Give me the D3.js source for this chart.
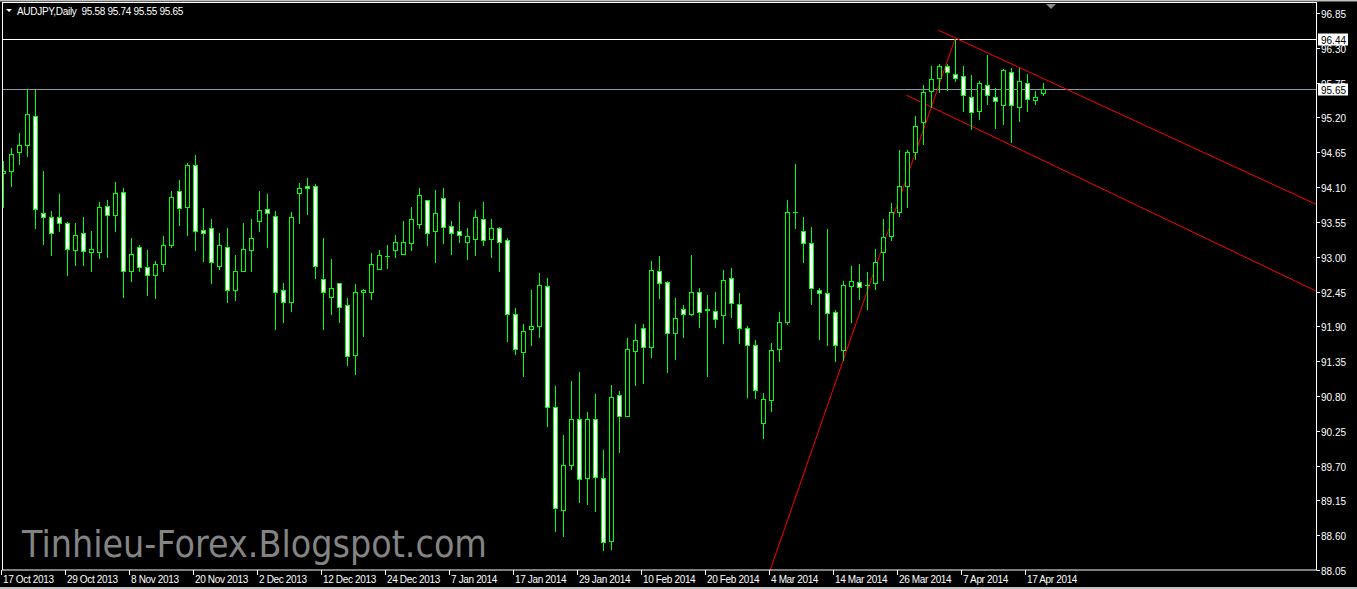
<!DOCTYPE html>
<html><head><meta charset="utf-8">
<script src="https://cdn.jsdelivr.net/npm/d3@7"></script>
<style>
html,body{margin:0;padding:0;background:#000;overflow:hidden}
svg{display:block}
</style></head><body>
<script>
// ---- data ----
const opens  = [94.33,94.35,94.65,94.76,95.23,93.69,93.63,93.63,93.53,93.11,93.37,93.08,93.08,93.80,93.66,94.02,92.77,93.15,92.84,92.71,92.89,93.19,94.04,93.78,94.45,93.42,93.45,92.85,93.15,92.47,92.78,93.11,93.57,93.76,93.65,92.47,92.28,94.00,94.11,94.12,92.65,92.36,92.58,92.24,91.44,92.44,92.45,92.81,93.01,93.11,93.05,93.22,93.52,93.89,93.40,93.92,93.49,93.40,93.24,93.28,93.60,93.28,93.46,93.26,92.09,91.49,91.85,91.90,92.54,90.63,89.00,89.71,90.43,89.50,90.43,89.51,88.51,90.81,90.48,91.51,91.87,91.58,92.77,92.60,91.79,92.17,92.09,92.44,92.17,92.14,92.08,92.66,92.25,91.87,91.61,90.37,90.74,91.54,91.97,93.70,93.41,93.21,92.47,92.43,92.13,91.52,92.54,92.60,92.55,92.58,93.08,93.33,93.70,94.12,94.66,95.13,95.62,95.82,96.02,95.89,95.85,95.53,95.30,95.72,95.53,95.40,95.92,95.37,95.75,95.47,95.58];
const highs  = [94.51,94.71,94.96,95.65,95.63,94.36,93.72,93.99,93.55,93.54,93.63,93.40,93.86,93.89,94.18,94.09,93.29,93.18,93.11,92.93,93.33,94.04,94.21,94.48,94.61,93.77,93.59,93.37,93.46,93.03,93.54,93.60,94.04,93.99,93.72,92.59,93.71,94.17,94.24,94.15,93.30,92.97,92.59,92.35,92.57,92.49,93.06,93.10,93.18,93.34,93.57,93.79,94.08,93.90,94.05,94.08,93.57,93.86,93.46,93.74,93.86,93.59,93.47,93.29,92.19,91.93,92.47,92.75,92.66,90.95,90.18,91.04,91.18,90.55,90.83,89.94,90.98,90.88,91.71,91.93,91.93,92.93,93.01,92.62,92.35,92.23,93.03,92.51,92.39,92.44,92.79,92.82,92.43,91.90,91.68,90.85,91.64,92.13,93.90,94.47,93.63,93.47,92.50,93.44,92.16,92.61,92.85,92.88,92.76,93.12,93.59,93.85,94.69,94.69,95.22,95.72,96.02,96.05,96.05,96.44,96.02,95.87,95.77,96.19,95.66,95.97,95.98,95.98,95.89,95.62,95.74];
const lows   = [93.79,94.12,94.46,94.59,93.45,93.20,93.03,93.41,92.71,92.87,92.87,92.77,92.98,93.00,93.40,92.37,92.61,92.77,92.40,92.35,92.78,93.15,93.50,93.34,93.11,92.93,92.58,92.80,92.28,92.32,92.77,92.78,93.40,93.15,91.85,91.97,92.14,93.53,93.68,92.67,91.85,92.10,91.97,91.29,91.14,91.75,92.33,92.80,92.82,92.99,93.05,93.11,93.45,93.19,92.92,93.22,93.04,93.24,92.97,93.03,93.19,93.00,92.77,91.67,91.47,91.12,91.60,91.73,90.32,88.67,88.59,89.65,89.13,89.09,88.98,88.37,88.38,89.91,90.48,90.98,91.00,91.41,92.35,91.18,91.39,91.73,92.08,91.89,91.12,91.89,91.63,92.05,91.64,90.79,90.76,90.14,90.57,91.35,91.93,93.46,92.92,92.25,91.70,91.60,91.35,91.37,91.97,92.33,92.17,92.49,92.63,93.26,93.65,93.79,94.55,94.78,95.37,95.60,95.63,95.77,95.30,95.02,95.18,95.41,95.04,95.10,94.82,95.15,95.30,95.41,95.55];
const closes = [94.36,94.62,94.77,95.25,93.75,93.63,93.38,93.53,93.12,93.35,93.09,93.12,93.78,93.66,94.00,92.77,93.05,92.83,92.71,92.89,93.19,93.94,93.77,94.45,93.40,93.38,92.91,93.18,92.47,92.78,93.12,93.30,93.74,93.69,92.45,92.28,93.63,94.09,94.08,92.85,92.45,92.50,92.20,91.43,92.44,92.47,92.89,93.03,93.01,93.23,93.23,93.60,93.97,93.38,93.69,93.47,93.38,93.35,93.32,93.63,93.27,93.46,93.24,92.10,91.54,91.82,91.90,92.55,90.62,89.03,89.71,90.43,89.48,90.43,89.52,88.50,90.79,90.48,91.54,91.69,91.58,92.79,92.59,91.79,92.03,92.10,92.44,92.13,92.16,92.02,92.63,92.27,91.87,91.61,90.89,90.75,91.53,91.97,93.70,93.71,93.21,92.51,92.43,92.11,91.60,92.55,92.62,92.52,92.56,92.92,93.31,93.70,94.12,94.65,95.07,95.60,95.81,96.02,95.92,95.83,95.55,95.29,95.75,95.55,95.46,95.95,95.39,95.77,95.49,95.53,95.65];

const dateLabels = ["17 Oct 2013","29 Oct 2013","8 Nov 2013","20 Nov 2013","2 Dec 2013","12 Dec 2013","24 Dec 2013","7 Jan 2014","17 Jan 2014","29 Jan 2014","10 Feb 2014","20 Feb 2014","4 Mar 2014","14 Mar 2014","26 Mar 2014","7 Apr 2014","17 Apr 2014"];
const dateLabelBars = [0,8,16,24,32,40,48,56,64,72,80,88,96,104,112,120,128];
const priceTicks = [96.85,96.30,95.75,95.20,94.65,94.10,93.55,93.00,92.45,91.90,91.35,90.80,90.25,89.70,89.15,88.60,88.05];
const hLineLevel = 96.44;
const bidLevel = 95.65;
const headerText = "AUDJPY,Daily  95.58 95.74 95.55 95.65";
const watermark = "Tinhieu-Forex.Blogspot.com";
// trend objects: [bar, price] end points
const trendLine    = [[95.9, 88.05],[119, 96.44]];
const channelUpper = [[116.9, 96.58],[164.1, 93.83]];
const channelLower = [[112.9, 95.555],[164.1, 92.46]];

// ---- layout ----
const W = 1357, H = 589;
const plot = {left: 2, top: 3, right: 1316, bottom: 570};

const svg = d3.select("body").append("svg").attr("width", W).attr("height", H);
svg.append("rect").attr("width", W).attr("height", H).attr("fill", "#000");

const x = d3.scaleLinear().domain([0, 1]).range([3, 11]);   // bar index -> px (8px per bar)
const y = d3.scaleLinear().domain([88.05, 96.85]).range([570, 13.05]);

svg.append("defs").append("clipPath").attr("id","clip")
  .append("rect").attr("x", plot.left).attr("y", plot.top)
  .attr("width", plot.right - plot.left).attr("height", plot.bottom - plot.top);

const g = svg.append("g").attr("clip-path","url(#clip)");

// watermark
svg.append("text").attr("x", 22).attr("y", 557)
  .attr("font-family","'DejaVu Sans', sans-serif").attr("font-size", 38)
  .attr("fill","#848484").attr("textLength", 465).attr("lengthAdjust","spacingAndGlyphs")
  .text(watermark);

// horizontal line object & bid line
g.append("line").attr("x1", plot.left).attr("x2", plot.right)
  .attr("y1", Math.round(y(hLineLevel))+0.5).attr("y2", Math.round(y(hLineLevel))+0.5)
  .attr("stroke","#fff");
g.append("line").attr("x1", plot.left).attr("x2", plot.right)
  .attr("y1", Math.round(y(bidLevel))+0.5).attr("y2", Math.round(y(bidLevel))+0.5)
  .attr("stroke","#8a9aa8");

// red trend objects
[trendLine, channelUpper, channelLower].forEach(pts => {
  g.append("line")
    .attr("x1", x(pts[0][0])).attr("y1", y(pts[0][1]))
    .attr("x2", x(pts[1][0])).attr("y2", y(pts[1][1]))
    .attr("stroke","#ff0000").attr("stroke-width",1);
});

// candles
const idx = d3.range(opens.length);
const cg = g.append("g").attr("shape-rendering","crispEdges");
idx.forEach(i => {
  const cx = Math.round(x(i)) + 0.5;
  cg.append("line").attr("x1", cx).attr("x2", cx)
    .attr("y1", Math.round(y(highs[i]))).attr("y2", Math.round(y(lows[i]))+1)
    .attr("stroke","#00ff00");
  const yo = Math.round(y(opens[i])), yc = Math.round(y(closes[i]));
  const top = Math.min(yo, yc), bot = Math.max(yo, yc);
  if (bot - top < 1) {
    cg.append("line").attr("x1", cx-2.5).attr("x2", cx+2.5)
      .attr("y1", top+0.5).attr("y2", top+0.5).attr("stroke","#00ff00");
  } else {
    cg.append("rect").attr("x", cx-2).attr("y", top+0.5)
      .attr("width", 4).attr("height", bot-top)
      .attr("fill", closes[i] >= opens[i] ? "#000" : "#fff")
      .attr("stroke","#00ff00").attr("stroke-width",1);
  }
});

// chart border
svg.append("rect").attr("x", plot.left+0.5).attr("y", plot.top-0.5)
  .attr("width", plot.right-plot.left).attr("height", plot.bottom-plot.top+0.5)
  .attr("fill","none").attr("stroke","#fff");

// window frame
svg.append("rect").attr("x",0).attr("y",0).attr("width",W).attr("height",1.5).attr("fill","#c0c0c0");
svg.append("rect").attr("x",0).attr("y",H-2).attr("width",W).attr("height",2).attr("fill","#c0c0c0");

// right price axis
const ax = svg.append("g").attr("font-family","'Liberation Sans', Arial, sans-serif").attr("font-size",10).attr("fill","#fff");
priceTicks.forEach(p => {
  const yy = Math.round(y(p)) + 0.5;
  ax.append("line").attr("x1", plot.right+0.5).attr("x2", plot.right+4).attr("y1", yy).attr("y2", yy).attr("stroke","#fff");
  ax.append("text").attr("x", 1321).attr("y", yy+4).text(p.toFixed(2));
});
[hLineLevel, bidLevel].forEach(p => {
  const yy = Math.round(y(p)) + 0.5;
  ax.append("rect").attr("x", 1318).attr("y", yy-6).attr("width", 30).attr("height", 12).attr("fill","#fff");
  ax.append("text").attr("x", 1321).attr("y", yy+4).attr("fill","#000").text(p.toFixed(2));
});

// bottom date axis
dateLabelBars.forEach((b, k) => {
  const xx = Math.round(x(b)) - 1.5;
  ax.append("line").attr("x1", xx).attr("x2", xx).attr("y1", plot.bottom).attr("y2", plot.bottom+5).attr("stroke","#fff");
  ax.append("text").attr("x", xx+1.5).attr("y", 583).attr("letter-spacing", -0.35).text(dateLabels[k]);
});

// header
svg.append("path").attr("d","M6,9 L12,9 L9,12 Z").attr("fill","#fff");
svg.append("text").attr("x", 17).attr("y", 15)
  .attr("font-family","'Liberation Sans', Arial, sans-serif").attr("font-size",10)
  .attr("letter-spacing", -0.3)
  .attr("fill","#fff").attr("xml:space","preserve").style("white-space","pre").text(headerText);

// chart-shift marker
svg.append("path").attr("d","M1046,4 L1056,4 L1051,9 Z").attr("fill","#8c8c8c");
</script>
</body></html>
